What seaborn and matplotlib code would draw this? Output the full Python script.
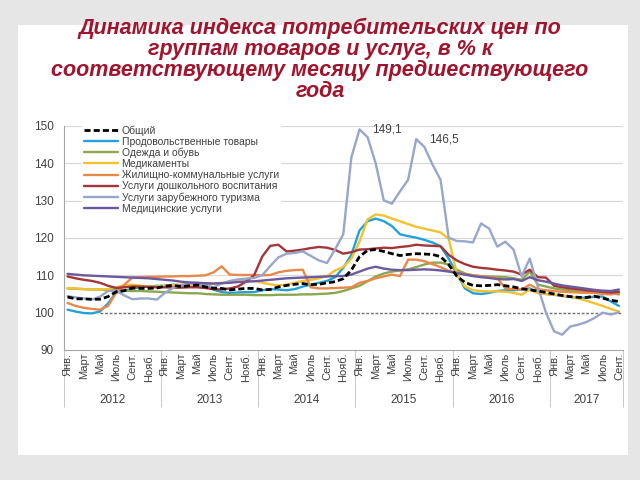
import numpy as np
import pandas as pd
import matplotlib
matplotlib.use('Agg')
import matplotlib.pyplot as plt
import seaborn as sns
from matplotlib.patches import Rectangle

sns.set_theme(style='white')
plt.rcParams['font.family'] = ['Liberation Sans', 'DejaVu Sans']

##chart data, monthly Jan 2012 - Sep 2017, % to same month of previous year
years = [2012, 2013, 2014, 2015, 2016, 2017]
month_labels = ['Янв.', 'Март', 'Май', 'Июль', 'Сент.', 'Нояб.']

obshiy = [104.2, 103.7, 103.7, 103.6, 103.6, 104.3, 105.6, 105.9, 106.6, 106.5, 106.5, 106.6,
          107.1, 107.3, 107.0, 107.2, 107.4, 106.9, 106.5, 106.5, 106.1, 106.3, 106.5, 106.5,
          106.1, 106.2, 106.9, 107.3, 107.6, 107.8, 107.5, 107.6, 108.0, 108.3, 109.1, 111.4,
          115.0, 116.7, 116.9, 116.4, 115.8, 115.3, 115.6, 115.8, 115.7, 115.6, 115.0, 112.9,
          109.8, 108.1, 107.3, 107.2, 107.3, 107.5, 107.2, 106.9, 106.4, 106.1, 105.8, 105.4,
          105.0, 104.6, 104.3, 104.1, 104.1, 104.4, 103.9, 103.3, 103.0]
food = [100.8, 100.3, 99.9, 99.8, 100.3, 102.5, 105.4, 105.8, 106.5, 106.8, 107.0, 107.2,
        107.2, 107.5, 107.3, 107.5, 107.6, 107.0, 106.2, 105.5, 105.3, 105.4, 105.5, 105.5,
        106.0, 106.3, 106.2, 106.0, 106.3, 107.0, 107.5, 108.0, 108.5, 109.5, 112.0, 115.5,
        122.0, 124.5, 125.2, 124.5, 123.2, 121.0, 120.5, 120.1, 119.5, 118.8, 117.8, 114.5,
        110.5, 106.5, 105.2, 105.0, 105.3, 105.8, 106.0, 106.0, 106.2, 106.5, 105.4, 105.0,
        104.8, 104.5, 104.2, 104.0, 104.0, 104.3, 104.3, 103.0, 101.8]
clothes = [106.5, 106.4, 106.3, 106.2, 106.2, 106.0, 106.0, 105.9, 105.8, 105.8, 105.7, 105.6,
           105.5, 105.4, 105.3, 105.2, 105.2, 105.0, 104.9, 104.8, 104.8, 104.8, 104.8, 104.7,
           104.7, 104.7, 104.8, 104.8, 104.8, 104.9, 104.9, 105.0, 105.1, 105.3, 105.8, 106.5,
           107.2, 108.4, 109.7, 110.5, 111.0, 111.3, 111.6, 112.2, 112.9, 113.4, 113.4, 112.9,
           111.5, 110.5, 110.0, 109.8, 109.7, 109.6, 109.5, 109.2, 108.8, 111.0, 107.5, 107.0,
           106.5, 106.2, 106.0, 105.8, 105.6, 105.5, 105.4, 105.2, 104.9]
medicines = [106.6, 106.5, 106.3, 106.2, 106.2, 106.3, 106.8, 107.3, 107.5, 107.2, 107.0, 107.0,
             107.2, 107.4, 107.5, 107.6, 107.6, 107.7, 107.8, 108.0, 108.2, 108.3, 108.4, 108.5,
             108.0, 107.6, 107.3, 107.5, 108.0, 108.5, 108.8, 109.2, 109.8, 111.3, 112.2, 114.5,
             119.0, 125.0, 126.3, 126.0, 125.2, 124.5, 123.7, 123.0, 122.5, 122.0, 121.5, 119.8,
             110.5, 107.0, 106.0, 105.8, 105.7, 105.7, 105.6, 105.3, 104.8, 106.2, 105.2, 105.0,
             104.8, 104.6, 104.4, 103.8, 103.2, 102.5, 101.8, 101.0, 100.3]
housing = [102.6, 101.8, 101.3, 101.0, 100.8, 101.8, 105.4, 107.5, 109.4, 109.5, 109.6, 109.6,
           109.7, 109.7, 109.8, 109.8, 109.9, 110.0, 110.8, 112.4, 110.2, 110.1, 110.1, 110.1,
           110.0, 110.1, 110.8, 111.2, 111.4, 111.5, 106.8, 106.5, 106.5, 106.6, 106.7, 106.8,
           108.0, 108.5, 109.2, 109.7, 110.2, 109.8, 114.2, 114.2, 113.8, 113.0, 112.2, 111.2,
           110.8, 110.3, 110.0, 109.7, 109.5, 109.3, 106.5, 106.3, 106.2, 107.5, 106.3, 106.0,
           105.8, 105.6, 105.5, 105.4, 105.3, 105.3, 105.0, 104.9, 105.2]
preschool = [109.7, 109.2, 108.8, 108.5, 108.0, 107.2, 106.6, 106.8, 107.0, 107.0, 106.9, 106.8,
             106.8, 106.7, 106.7, 106.8, 106.8, 106.6, 106.3, 106.2, 106.5, 107.0, 108.3, 110.0,
             115.0, 117.9, 118.2, 116.4, 116.6, 116.9, 117.3, 117.6, 117.4, 116.8, 115.8, 116.2,
             116.9, 117.0, 117.2, 117.4, 117.3, 117.6, 117.8, 118.2, 118.0, 117.9, 117.8, 115.5,
             114.0, 113.0, 112.3, 112.0, 111.8, 111.5, 111.3, 111.0, 110.2, 111.5, 109.5, 109.4,
             107.2, 106.8, 106.5, 106.3, 106.0, 105.8, 105.6, 105.4, 105.6]
tourism = [104.4, 104.1, 103.8, 103.5, 104.3, 105.8, 105.9, 104.6, 103.6, 103.8, 103.8, 103.5,
           105.3, 106.6, 107.4, 107.9, 108.0, 107.5, 106.8, 107.8, 108.5, 108.9, 109.1, 109.3,
           110.0, 112.5, 114.8, 115.8, 116.0, 116.4, 115.2, 114.0, 113.3, 117.0, 121.0, 141.6,
           149.1, 147.0, 140.0, 130.1, 129.2, 132.5, 135.6, 146.5, 144.4, 139.7, 135.6, 120.1,
           119.2, 119.1, 118.8, 123.9, 122.5, 117.7, 119.0, 116.9, 109.7, 114.5, 107.0, 100.0,
           95.0, 94.1, 96.3, 96.8, 97.5, 98.6, 100.0, 99.5, 100.1]
medservices = [110.4, 110.2, 110.0, 109.9, 109.8, 109.7, 109.6, 109.5, 109.4, 109.3, 109.2, 109.0,
               108.8, 108.6, 108.3, 108.1, 108.0, 107.9, 107.8, 107.9, 108.0, 108.2, 108.3, 108.4,
               108.6, 108.8, 109.0, 109.2, 109.3, 109.4, 109.5, 109.6, 109.7, 109.8, 109.8, 110.2,
               111.0, 111.8, 112.3, 111.8, 111.5, 111.4, 111.4, 111.5, 111.6, 111.5, 111.3, 111.0,
               110.6, 110.2, 109.8, 109.5, 109.3, 109.0, 108.9, 109.0, 108.5, 109.5, 108.7, 108.3,
               107.8, 107.3, 107.0, 106.7, 106.4, 106.1, 105.9, 105.8, 106.2]

names = ['Общий', 'Продовольственные товары', 'Одежда и обувь', 'Медикаменты',
         'Жилищно-коммунальные услуги', 'Услуги дошкольного воспитания',
         'Услуги зарубежного туризма', 'Медицинские услуги']
colors = ['black', '#22a2d8', '#8ca74e', '#f4c12f', '#e8884a', '#a3363a', '#97a7cb', '#6c5a9f']

df = pd.DataFrame(dict(zip(names, [obshiy, food, clothes, medicines, housing,
                                   preschool, tourism, medservices])))
df['month'] = np.arange(len(df))
n = len(df)

fig = plt.figure(figsize=(6.4, 4.8), dpi=100)
fig.patch.set_facecolor('#e6e6e6')
fig.patches.append(Rectangle((18/640, 25/480), 610/640, 430/480, transform=fig.transFigure,
                             facecolor='white', edgecolor='none', zorder=-5))

ax = fig.add_axes([63.5/640, 1-350/480, 559.5/640, 224/480])
ax.set_facecolor('none')
ax.set_zorder(2)

##horizontal grid (no line at 100, there is the dashed reference instead)
for yv in [110, 120, 130, 140, 150]:
    ax.axhline(yv, color='#d9d9d9', lw=0.9, zorder=0)
ax.hlines(100, 4, n - 0.5, colors='#707070', linestyles=(0, (2, 1.3)), lw=1.0, zorder=1)

for name, col in zip(names, colors):
    if name == 'Общий':
        sns.lineplot(data=df, x='month', y=name, ax=ax, color=col, lw=2.0,
                     linestyle=(0, (2.2, 1.1)), label=name, zorder=6)
    else:
        sns.lineplot(data=df, x='month', y=name, ax=ax, color=col, lw=1.7,
                     label=name, zorder=3)

##peak labels for tourism
for lo, hi in [(30, 40), (40, 47)]:
    seg = df['Услуги зарубежного туризма'][lo:hi]
    i = seg.idxmax()
    ax.annotate(f'{seg.max():.1f}'.replace('.', ','), (i, seg.max()),
                xytext=(9, 0), textcoords='offset points', ha='left', va='center',
                fontsize=8.5, color='#404040')

ax.set_xlim(-0.5, n - 0.5)
ax.set_ylim(90, 150)
ax.set_yticks([90, 100, 110, 120, 130, 140, 150])
ax.set_xlabel('')
ax.set_ylabel('')
for s in ['top', 'right']:
    ax.spines[s].set_visible(False)
for s in ['left', 'bottom']:
    ax.spines[s].set_color('#a6a6a6')
    ax.spines[s].set_linewidth(0.8)
ax.tick_params(axis='y', length=4, width=0.8, color='#a6a6a6', labelsize=8.5,
               labelcolor='#404040', pad=3)

##month labels every other month, separators at every month
ax.set_xticks(np.arange(0, n, 2))
ax.set_xticklabels([month_labels[(m % 12) // 2] for m in range(0, n, 2)], rotation=90,
                   va='top', ha='center')
ax.set_xticks(np.arange(-0.5, n, 1), minor=True)
ax.tick_params(axis='x', which='major', length=0, labelsize=8, labelcolor='#404040', pad=2)
ax.tick_params(axis='x', which='minor', length=27, width=0.6, color='#bfbfbf', direction='out')

##year separators and year labels
sep = ax.secondary_xaxis('bottom')
sep.set_xticks([12 * k - 0.5 for k in range(len(years))] + [n - 0.5])
sep.set_xticklabels([])
sep.tick_params(axis='x', length=41, width=0.6, color='#bfbfbf')
sep.spines['bottom'].set_visible(False)

yl = ax.secondary_xaxis('bottom')
starts = [12 * k - 0.5 for k in range(len(years))]
ends = starts[1:] + [n - 0.5]
yl.set_xticks([(a + b) / 2 for a, b in zip(starts, ends)])
yl.set_xticklabels([str(y) for y in years])
yl.tick_params(axis='x', length=0, labelsize=8.5, labelcolor='#404040', pad=32)
yl.spines['bottom'].set_visible(False)

handles, labels = ax.get_legend_handles_labels()
leg = ax.legend(handles, labels, loc='upper left', bbox_to_anchor=(82/640, 1-123/480),
                bbox_transform=fig.transFigure, fontsize=7.5, frameon=True, framealpha=1,
                edgecolor='none', facecolor='white', borderpad=0.2, borderaxespad=0,
                labelspacing=0.1, handlelength=3.3, handletextpad=0.3)
for t in leg.get_texts():
    t.set_color('#404040')

fig.text(0.5, 1 - 60/480,
         'Динамика индекса потребительских цен по\nгруппам товаров и услуг, в % к\n'
         'соответствующему месяцу предшествующего\nгода',
         ha='center', va='center', fontsize=15.5, fontweight='bold', fontstyle='italic',
         color='#a0142d', linespacing=1.0, zorder=3)

fig.savefig('out.png', dpi=100, facecolor=fig.get_facecolor())
